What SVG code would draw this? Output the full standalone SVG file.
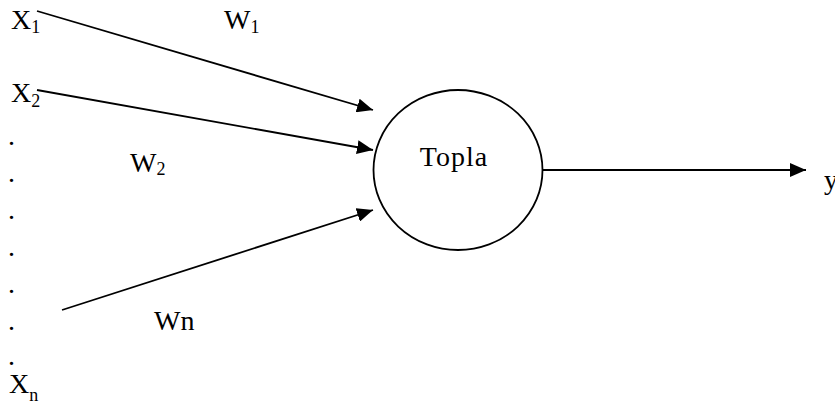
<svg xmlns="http://www.w3.org/2000/svg" width="835" height="406" viewBox="0 0 835 406">
  <defs>
    <marker id="arrow" viewBox="0 0 16 14" refX="16" refY="7" markerWidth="16" markerHeight="14" markerUnits="userSpaceOnUse" orient="auto">
      <path d="M0,0 L16,7 L0,14 Z" fill="#000"/>
    </marker>
  </defs>
  <rect width="835" height="406" fill="#fff"/>

  <g font-family="'Liberation Serif', 'Times New Roman', serif" font-size="28" fill="#000">
    <!-- inputs -->
    <g id="x1"><text x="11" y="29">X<tspan font-size="18" dy="4">1</tspan></text></g>
    <g id="x2"><text x="11" y="102">X<tspan font-size="18" dy="5">2</tspan></text></g>
    <g id="dots">
      <text x="8" y="145">.</text>
      <text x="8" y="182">.</text>
      <text x="8" y="219">.</text>
      <text x="8" y="256">.</text>
      <text x="8" y="293">.</text>
      <text x="8" y="330">.</text>
      <text x="8" y="365">.</text>
    </g>
    <g id="xn"><text x="9" y="393">X<tspan font-size="18" dy="8">n</tspan></text></g>

    <!-- weights -->
    <g id="w1"><text x="224" y="29">W<tspan font-size="18" dy="4">1</tspan></text></g>
    <g id="w2"><text x="130" y="172">W<tspan font-size="18" dy="3">2</tspan></text></g>
    <g id="wn"><text x="154" y="330">Wn</text></g>

    <!-- summation node -->
    <g id="topla">
      <ellipse cx="458" cy="170" rx="84.5" ry="80" fill="#fff" stroke="#000" stroke-width="1.8"/>
      <text x="454" y="166" text-anchor="middle" letter-spacing="1">Topla</text>
    </g>

    <!-- output -->
    <g id="y"><text x="824" y="189">y</text></g>
  </g>

  <!-- connectors -->
  <g id="connectors" stroke="#000" stroke-width="1.8" fill="none">
    <line x1="37" y1="11" x2="373" y2="110" marker-end="url(#arrow)"/>
    <line x1="37" y1="90" x2="373" y2="150" marker-end="url(#arrow)"/>
    <line x1="62" y1="310" x2="373" y2="210" marker-end="url(#arrow)"/>
    <line x1="542" y1="170" x2="806" y2="170" marker-end="url(#arrow)"/>
  </g>
</svg>
